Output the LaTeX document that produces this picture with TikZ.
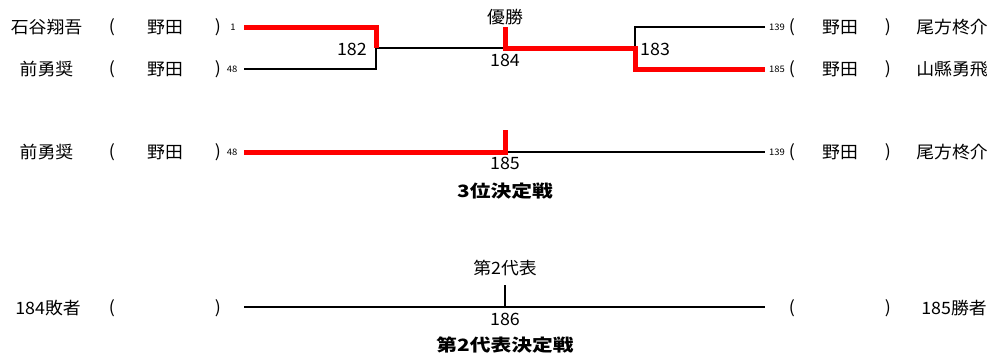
\documentclass[tikz,border=0pt]{standalone}
\usepackage{fontspec}
\setmainfont{Noto Sans CJK JP}[FakeStretch=1.05]
\newfontfamily\ttlfont{Noto Sans CJK JP}[FakeStretch=1.22]
\begin{document}
\begin{tikzpicture}[x=1pt,y=-1pt,
  txt/.style={inner sep=0pt, font=\fontsize{17}{17}\selectfont},
  tiny/.style={inner sep=0pt, font=\fontsize{9}{9}\selectfont},
  ttl/.style={inner sep=0pt, font=\fontsize{17}{17}\selectfont\ttlfont\bfseries},
  win/.style={draw=red, line width=5pt, line join=miter},
  lose/.style={draw=black, line width=2pt, line join=miter}]
\useasboundingbox (0,0) rectangle (996,360);

% ---------- top bracket: texts ----------
\node[txt] (n1) at (46.5,27) {石谷翔吾};
\node[txt] (o1) at (112,27) {(};
\node[txt] (s1) at (165,27) {野田};
\node[txt] (c1) at (218,27) {)};
\node[tiny] (k1) at (233,27) {1};
\node[txt] (n2) at (46.5,69) {前勇奨};
\node[txt] (o2) at (112,69) {(};
\node[txt] (s2) at (165,69) {野田};
\node[txt] (c2) at (218,69) {)};
\node[tiny] (k2) at (232,69) {48};
\node[tiny] (k3) at (777,27) {139};
\node[txt] (o3) at (792,27) {(};
\node[txt] (s3) at (840,27) {野田};
\node[txt] (c3) at (888,27) {)};
\node[txt] (n3) at (952,27) {尾方柊介};
\node[tiny] (k4) at (777,69) {185};
\node[txt] (o4) at (792,69) {(};
\node[txt] (s4) at (840,69) {野田};
\node[txt] (c4) at (888,69) {)};
\node[txt] (n4) at (952,69) {山縣勇飛};

% ---------- top bracket: lines ----------
\coordinate (a1) at (244,27);
\coordinate (a2) at (244,69);
\coordinate (b1) at (765,27);
\coordinate (b2) at (765,69);
\coordinate (j182) at (376,48);
\coordinate (j184) at (505,48);
\coordinate (j183) at (635,48);
\coordinate (top) at (505,27);
\draw[lose] (a2) -| (j182);
\draw[lose] (j182) -- (j184);
\draw[lose] (b1) -| (j183);
\draw[win] (a1) -| (j182);
\draw[win] (top) -- (j184) -- (j183) |- (b2);
\node[txt, anchor=east] (m182) at (367,49) {182};
\node[txt] (m184) at (505,60) {184};
\node[txt, anchor=west] (m183) at (640,49) {183};
\node[txt] (champ) at (505,17) {優勝};

% ---------- third place ----------
\node[txt] (n5) at (46.5,152) {前勇奨};
\node[txt] (o5) at (112,152) {(};
\node[txt] (s5) at (165,152) {野田};
\node[txt] (c5) at (218,152) {)};
\node[tiny] (k5) at (232,152) {48};
\node[tiny] (k6) at (777,152) {139};
\node[txt] (o6) at (792,152) {(};
\node[txt] (s6) at (840,152) {野田};
\node[txt] (c6) at (888,152) {)};
\node[txt] (n6) at (952,152) {尾方柊介};
\coordinate (a3) at (244,152);
\coordinate (b3) at (765,152);
\coordinate (j185) at (505,152);
\coordinate (t185) at (505,130);
\draw[lose] (j185) -- (b3);
\draw[win] (a3) -- (j185) -- (t185);
\node[txt] (m185) at (505,163) {185};
\node[ttl] (third) at (505,191) {3位決定戦};

% ---------- second representative ----------
\node[txt] (n7) at (48,308) {184敗者};
\node[txt] (o7) at (112,308) {(};
\node[txt] (c7) at (218,308) {)};
\node[txt] (o8) at (792,308) {(};
\node[txt] (c8) at (888,308) {)};
\node[txt] (n8) at (954,308) {185勝者};
\coordinate (a4) at (244,307);
\coordinate (b4) at (765,307);
\coordinate (j186) at (505,307);
\coordinate (t186) at (505,285);
\draw[lose] (a4) -- (b4);
\draw[lose] (j186) -- (t186);
\node[txt] (m186) at (505,319) {186};
\node[txt] (rep) at (505,268) {第2代表};
\node[ttl] (second) at (505,345) {第2代表決定戦};
\end{tikzpicture}
\end{document}
